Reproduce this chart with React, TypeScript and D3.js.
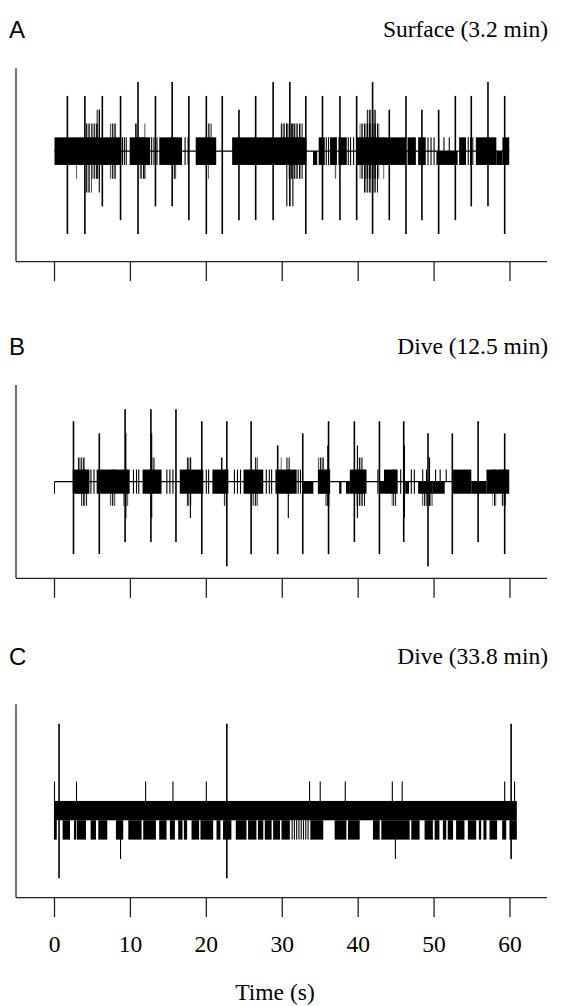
import React from 'react';
import * as d3 from 'd3';

const W = 561;
const H = 1006;

// time axis ticks (s)
const TIME_TICKS = [0, 10, 20, 30, 40, 50, 60];

// ---------- Panel A : Surface (3.2 min) ----------
// spikes: [time, top level, bottom level]
const A_SPIKES: [number, number, number][] = [
  [1.7, 4, -6], [4.0, 4, -6], [6.3, 4, -4], [8.7, 4, -5], [11.0, 5, -6], [13.3, 4, -4],
  [15.5, 5, -4], [17.7, 4, -5], [20.0, 4, -6], [22.1, 4, -6], [24.3, 3, -5], [26.5, 4, -5],
  [28.8, 5, -5], [31.0, 5, -4], [33.1, 4, -6], [35.3, 4, -5], [37.6, 4, -5], [39.8, 4, -5],
  [41.9, 5, -6], [44.1, 3, -5], [46.3, 4, -6], [48.4, 3, -5], [50.6, 3, -6], [52.8, 4, -5],
  [54.9, 4, -4], [57.1, 5, -4], [59.3, 4, -6],
];
// dense bursts: [t start, t end, low level, high level]
const A_BURSTS: [number, number, number, number][] = [
  [0.0, 8.8, -1, 1], [9.9, 12.6, -1, 1], [13.8, 16.8, -1, 1], [18.6, 21.3, -1, 1],
  [23.4, 33.2, -1, 1], [34.05, 34.6, -1, 0], [34.8, 35.6, -1, 1], [36.3, 37.2, -1, 1],
  [37.4, 38.5, -1, 1], [39.8, 46.3, -1, 1], [46.5, 47.6, -1, 1], [47.9, 48.9, -1, 1],
  [50.3, 53.1, -1, 0], [53.3, 54.2, -1, 1], [55.5, 58.2, -1, 1], [58.2, 59.0, -1, 0],
  [59.0, 59.9, -1, 1],
];
// larger excursions inside bursts (rapid toggling)
const A_EXCURSIONS: [number, number, number, number][] = [
  [4.0, 4.9, -3, 2], [4.9, 5.8, -2, 2], [5.55, 6.0, -2, 3], [7.3, 8.2, -2, 2], [2.85, 3.05, -2, 1],
  [10.6, 10.9, -1, 2], [11.2, 12.0, -2, 1], [11.8, 12.0, -2, 2], [15.6, 16.1, -2, 1],
  [20.0, 20.3, -2, 2], [20.3, 20.7, -1, 2], [29.7, 32.7, -1, 2], [30.8, 32.7, -2, 1],
  [36.9, 37.1, -2, 1], [40.2, 42.8, -2, 2], [40.7, 42.6, -3, 1], [41.1, 42.4, -1, 3],
  [43.3, 43.5, -2, 1],
];
// isolated single steps: [time, low level, high level]
const A_STEPS: [number, number, number][] = [
  [5.9, -3, 3], [8.95, -1, 1], [9.2, -1, 1], [9.45, -1, 1], [12.8, -1, 1], [13.1, -1, 1],
  [13.5, -1, 1], [17.2, -1, 1], [17.6, -1, 1], [30.6, -4, 2], [31.4, -4, 2], [35.8, -1, 1],
  [36.1, -1, 1], [38.7, -1, 1], [39.0, -1, 1], [39.4, -1, 1], [49.2, -1, 1], [49.6, -1, 1],
  [50.0, -1, 1], [50.6, 0, 1], [51.3, 0, 1], [52.0, 0, 1], [54.5, -1, 1], [54.8, -1, 1],
  [55.1, -1, 1],
];

// ---------- Panel B : Dive (12.5 min) ----------
const B_SPIKES: [number, number, number][] = [
  [2.5, 5, -6], [5.9, 4, -6], [9.3, 6, -5], [12.7, 6, -5], [16.0, 6, -5], [19.4, 5, -6],
  [22.7, 5, -7], [25.9, 5, -6], [29.4, 3, -6], [32.7, 4, -6], [36.1, 5, -6], [39.5, 5, -5],
  [42.8, 5, -6], [46.0, 5, -5], [49.2, 4, -7], [52.4, 4, -6], [55.8, 5, -5], [59.3, 4, -6],
];
const B_BURSTS: [number, number, number, number][] = [
  [2.4, 4.6, -1, 1], [5.55, 9.9, -1, 1], [11.6, 14.1, -1, 1], [16.5, 19.6, -1, 1],
  [20.8, 22.9, -1, 1], [24.9, 27.5, -1, 1], [29.1, 31.9, -1, 1], [32.7, 34.1, -1, 0],
  [34.7, 36.3, -1, 1], [37.5, 37.8, -1, 0], [38.4, 38.9, -1, 0], [38.9, 41.1, -1, 1],
  [42.8, 43.4, -1, 0], [43.4, 45.2, -1, 1], [46.2, 46.7, -1, 0], [47.9, 49.8, -1, 0],
  [49.8, 51.4, -1, 0], [52.5, 54.9, -1, 1], [54.9, 56.9, -1, 0], [56.9, 59.9, -1, 1],
];
const B_EXCURSIONS: [number, number, number, number][] = [
  [3.1, 4.0, -1, 2], [3.5, 4.3, -2, 1], [7.3, 8.0, -2, 1], [9.05, 9.7, -2, 1],
  [12.8, 13.2, -1, 2], [17.4, 18.05, -2, 2], [21.8, 22.2, -1, 2], [22.3, 22.65, -2, 1],
  [26.4, 26.8, -2, 2], [26.1, 26.4, -2, 1], [29.7, 29.9, -1, 2], [30.55, 31.0, -1, 2],
  [34.7, 35.6, -1, 2], [35.7, 36.3, -2, 1], [40.0, 40.6, -1, 2], [39.8, 40.9, -2, 1],
  [44.4, 45.0, -2, 1], [48.4, 49.8, -2, 0], [57.7, 58.2, -2, 1], [58.8, 59.5, -2, 1],
];
const B_STEPS: [number, number, number][] = [
  [0.0, -1, 0], [4.8, -1, 1], [5.2, -1, 1], [9.4, -3, 4], [10.4, -1, 1], [10.8, -1, 1],
  [11.1, -1, 1], [12.8, -3, 4], [14.8, -1, 1], [15.2, -1, 1], [15.6, -1, 1], [17.9, -3, 2],
  [20.0, -1, 1], [20.3, -1, 1], [23.7, -1, 1], [24.1, -1, 1], [24.5, -1, 1], [27.9, -1, 1],
  [28.3, -1, 1], [28.6, -1, 1], [30.8, -3, 1], [32.1, -1, 1], [32.4, -1, 1], [36.0, -2, 3],
  [39.9, -3, 3], [42.6, -1, 1], [45.6, -1, 1], [46.1, -3, 3], [47.0, -1, 1], [47.4, -1, 1],
  [48.5, 0, 1], [49.0, 0, 1], [49.4, -2, 2], [50.2, 0, 1], [50.8, 0, 1], [51.6, 0, 1],
];

// ---------- Panel C : Dive (33.8 min) ----------
const C_SPIKES: [number, number, number][] = [
  [0.6, 5, -3], [22.7, 5, -3], [60.15, 5, -2],
];
const C_BURSTS: [number, number, number, number][] = [
  [0.0, 60.9, 0, 1],
  [0.0, 0.3, -1, 0], [1.07, 2.04, -1, 0], [2.57, 2.83, -1, 0], [2.92, 4.14, -1, 0],
  [4.76, 5.46, -1, 0], [5.77, 6.95, -1, 0], [8.09, 9.05, -1, 0], [9.72, 11.47, -1, 0],
  [11.69, 13.36, -1, 0], [13.79, 14.76, -1, 0], [15.2, 15.86, -1, 0], [16.29, 16.86, -1, 0],
  [17.04, 17.47, -1, 0], [18.05, 19.05, -1, 0], [19.23, 20.9, -1, 0], [21.34, 21.86, -1, 0],
  [22.2, 23.3, -1, 0], [23.88, 25.29, -1, 0], [25.5, 26.6, -1, 0], [26.8, 27.5, -1, 0],
  [27.7, 28.6, -1, 0], [28.8, 29.7, -1, 0], [29.9, 31.0, -1, 0], [33.7, 35.4, -1, 0],
  [36.9, 38.45, -1, 0], [38.66, 40.2, -1, 0], [41.95, 42.83, -1, 0], [43.05, 46.78, -1, 0],
  [47.0, 48.09, -1, 0], [48.75, 49.84, -1, 0], [50.07, 50.7, -1, 0], [51.16, 51.6, -1, 0],
  [51.8, 52.5, -1, 0], [52.9, 54.0, -1, 0], [54.45, 55.55, -1, 0], [55.9, 56.2, -1, 0],
  [56.5, 56.9, -1, 0], [57.3, 58.3, -1, 0], [58.97, 59.5, -1, 0], [59.93, 60.9, -1, 0],
];
const C_EXCURSIONS: [number, number, number, number][] = [];
const C_STEPS: [number, number, number][] = [
  [0.0, -1, 2], [2.9, 0, 2], [8.7, -2, 0], [12.0, 0, 2], [15.6, 0, 2], [20.0, 0, 2],
  [31.3, -1, 0], [31.6, -1, 0], [31.9, -1, 0], [32.2, -1, 0], [32.5, -1, 0], [32.8, -1, 0],
  [33.1, -1, 0], [33.4, -1, 0], [33.6, 0, 2], [35.0, 0, 2], [38.3, 0, 2], [44.5, 0, 2],
  [44.9, -2, 0], [45.8, 0, 2], [59.3, 0, 2], [60.6, 0, 2],
];

const PANEL_LABELS = ['A', 'B', 'C'];
const PANEL_TITLES = ['Surface (3.2 min)', 'Dive (12.5 min)', 'Dive (33.8 min)'];
const PANEL_LEVELS: [number, number][] = [[-8, 6], [-8, 8], [-4, 6]];
const BASELINE_SPAN: [number, number] = [0, 59.9];

const panelsData = [
  { spikes: A_SPIKES, bursts: A_BURSTS, exc: A_EXCURSIONS, steps: A_STEPS, baseline: true },
  { spikes: B_SPIKES, bursts: B_BURSTS, exc: B_EXCURSIONS, steps: B_STEPS, baseline: true },
  { spikes: C_SPIKES, bursts: C_BURSTS, exc: C_EXCURSIONS, steps: C_STEPS, baseline: false },
];

const PANEL_TOPS = [68.3, 385, 704.3];
const LABEL_BASE = [38, 355, 665];
const PANEL_H = 193.3;
const AXIS_X = 16;
const AXIS_RIGHT = 547;
const SERIF = 'Liberation Serif, Times New Roman, serif';
const SANS = 'Liberation Sans, Arial, sans-serif';

const x = d3.scaleLinear().domain([0, 60]).range([54.5, 510]);

function Panel({ i }: { i: number }) {
  const top = PANEL_TOPS[i];
  const bottom = top + PANEL_H;
  const y = d3.scaleLinear().domain(PANEL_LEVELS[i]).range([bottom, top]);
  const d = panelsData[i];
  return (
    <g>
      <text x={9} y={LABEL_BASE[i]} fontFamily={SANS} fontSize={24}>
        {PANEL_LABELS[i]}
      </text>
      <text x={548} y={LABEL_BASE[i] - 1} textAnchor="end" fontFamily={SERIF} fontSize={23.5}>
        {PANEL_TITLES[i]}
      </text>
      {/* axes */}
      <line x1={AXIS_X} x2={AXIS_X} y1={top} y2={bottom} stroke="#222" strokeWidth={1.3} />
      <line x1={AXIS_X} x2={AXIS_RIGHT} y1={bottom} y2={bottom} stroke="#222" strokeWidth={1.3} />
      {TIME_TICKS.map((t) => (
        <line key={t} x1={x(t)} x2={x(t)} y1={bottom} y2={bottom + 19.5} stroke="#222" strokeWidth={1.3} />
      ))}
      {d.baseline && (
        <line x1={x(BASELINE_SPAN[0])} x2={x(BASELINE_SPAN[1])} y1={y(0)} y2={y(0)} stroke="#000" strokeWidth={1.3} />
      )}
      {d.exc.map((r, k) => (
        <rect key={'e' + k} x={x(r[0])} y={y(r[3])} width={Math.max(0.8, x(r[1]) - x(r[0]))}
          height={y(r[2]) - y(r[3])} fill="url(#toggle)" />
      ))}
      {d.bursts.map((r, k) => (
        <rect key={'r' + k} x={x(r[0])} y={y(r[3])} width={Math.max(0.8, x(r[1]) - x(r[0]))}
          height={y(r[2]) - y(r[3])} fill="#000" />
      ))}
      {d.steps.map((s, k) => (
        <line key={'s' + k} x1={x(s[0])} x2={x(s[0])} y1={y(s[1])} y2={y(s[2])} stroke="#000" strokeWidth={1.1} />
      ))}
      {d.spikes.map((s, k) => (
        <line key={'p' + k} x1={x(s[0])} x2={x(s[0])} y1={y(s[1])} y2={y(s[2])} stroke="#000" strokeWidth={1.6} />
      ))}
      {i === 2 && TIME_TICKS.map((t) => (
        <text key={'l' + t} x={x(t)} y={951.5} textAnchor="middle" fontFamily={SERIF} fontSize={23.5}>
          {t}
        </text>
      ))}
    </g>
  );
}

export default function App() {
  return (
    <svg width={W} height={H} style={{ position: 'absolute', left: 0, top: 0, background: '#fff' }}>
      <defs>
        <pattern id="toggle" patternUnits="userSpaceOnUse" width={2.6} height={4}>
          <rect x={0} y={0} width={1.4} height={4} fill="#000" />
        </pattern>
      </defs>
      <rect x={0} y={0} width={W} height={H} fill="#fff" />
      {[0, 1, 2].map((i) => <Panel key={i} i={i} />)}
      <text x={275} y={1000} textAnchor="middle" fontFamily={SERIF} fontSize={23.5}>
        Time (s)
      </text>
    </svg>
  );
}
